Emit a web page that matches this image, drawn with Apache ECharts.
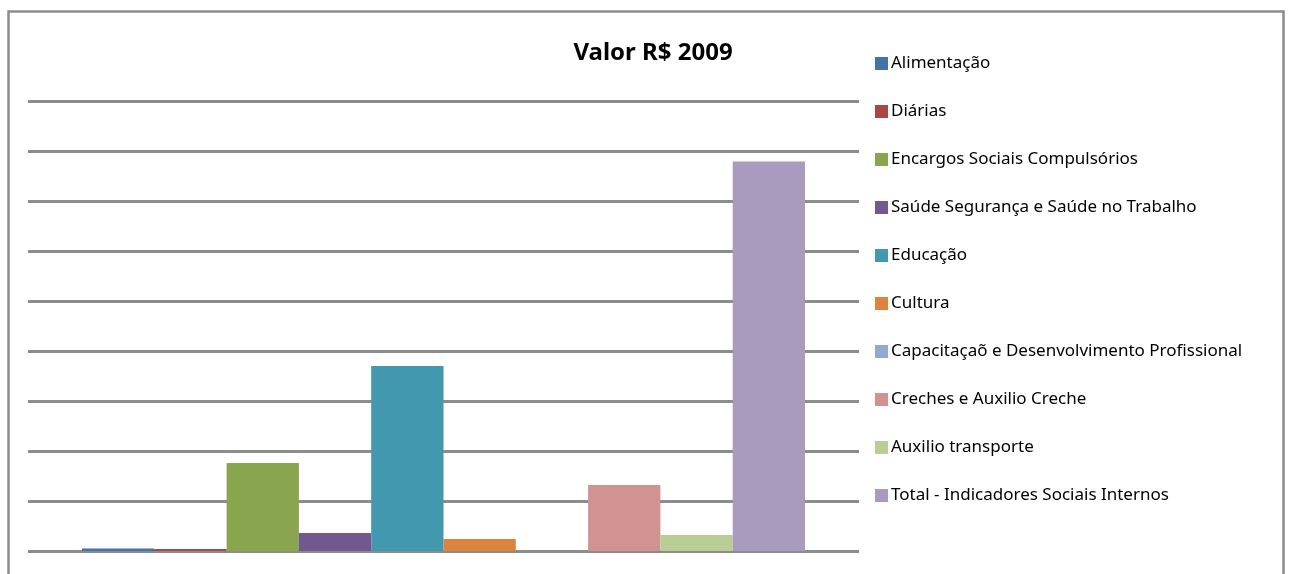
<!DOCTYPE html>
<html lang="pt">
<head>
    <meta charset="UTF-8">
    <title>Valor R$ 2009</title>
    <script src="https://cdn.jsdelivr.net/npm/echarts@6/dist/echarts.min.js"></script>
    <style>
        html, body { margin: 0; padding: 0; background: #fff; }
    </style>
</head>
<body>
    <div id="main" style="width: 1292px; height: 574px;"></div>
    <script>
        // dados
        const categorias = ['2009'];
        const nomes = [
            'Alimentação',
            'Diárias',
            'Encargos Sociais Compulsórios',
            'Saúde Segurança e Saúde no Trabalho',
            'Educação',
            'Cultura',
            'Capacitaçaõ e Desenvolvimento Profissional',
            'Creches e Auxilio Creche',
            'Auxilio transporte',
            'Total - Indicadores Sociais Internos'
        ];
        const valores = [50, 40, 1760, 360, 3700, 240, 0, 1320, 320, 7790];
        const cores = ['#4572A7', '#AA4643', '#89A54E', '#71588F', '#4198AF',
                       '#DB843D', '#93A9CF', '#D19392', '#B9CD96', '#A99BBD'];

        const fonte = '"Noto Sans", sans-serif';

        var myChart = echarts.init(document.getElementById('main'));

        let series = nomes.map((n, i) => ({
            name: n,
            type: 'bar',
            data: [valores[i]],
            barGap: '0%',
            barCategoryGap: '13%',
            itemStyle: { color: cores[i] }
        }));

        let option = {
            animation: false,
            color: cores,
            title: {
                text: 'Valor R$ 2009',
                left: 648,
                textAlign: 'center',
                top: 36,
                textStyle: {
                    fontFamily: fonte,
                    fontSize: 24,
                    fontWeight: 'bold',
                    color: '#000'
                }
            },
            legend: {
                orient: 'vertical',
                left: 875,
                top: 55,
                padding: 0,
                itemWidth: 13,
                itemHeight: 13,
                itemGap: 31,
                icon: 'rect',
                textStyle: {
                    fontFamily: fonte,
                    fontSize: 17,
                    color: '#000',
                    padding: [0, 0, 0, -2]
                },
                data: nomes
            },
            grid: {
                left: 28,
                right: 433,
                top: 101,
                bottom: 23
            },
            xAxis: {
                type: 'category',
                data: categorias,
                axisLine: { show: false },
                axisTick: { show: false },
                axisLabel: { show: false }
            },
            yAxis: {
                type: 'value',
                min: 0,
                max: 9000,
                interval: 1000,
                axisLine: { show: false },
                axisTick: { show: false },
                axisLabel: { show: false },
                splitLine: {
                    lineStyle: { color: '#8c8c8c', width: 3 }
                }
            },
            graphic: [{
                type: 'rect',
                shape: { x: 8.5, y: 11.5, width: 1275, height: 600 },
                style: { fill: 'none', stroke: '#8c8c8c', lineWidth: 2.5 },
                silent: true
            }],
            series: series
        };

        myChart.setOption(option);
    </script>
</body>
</html>
